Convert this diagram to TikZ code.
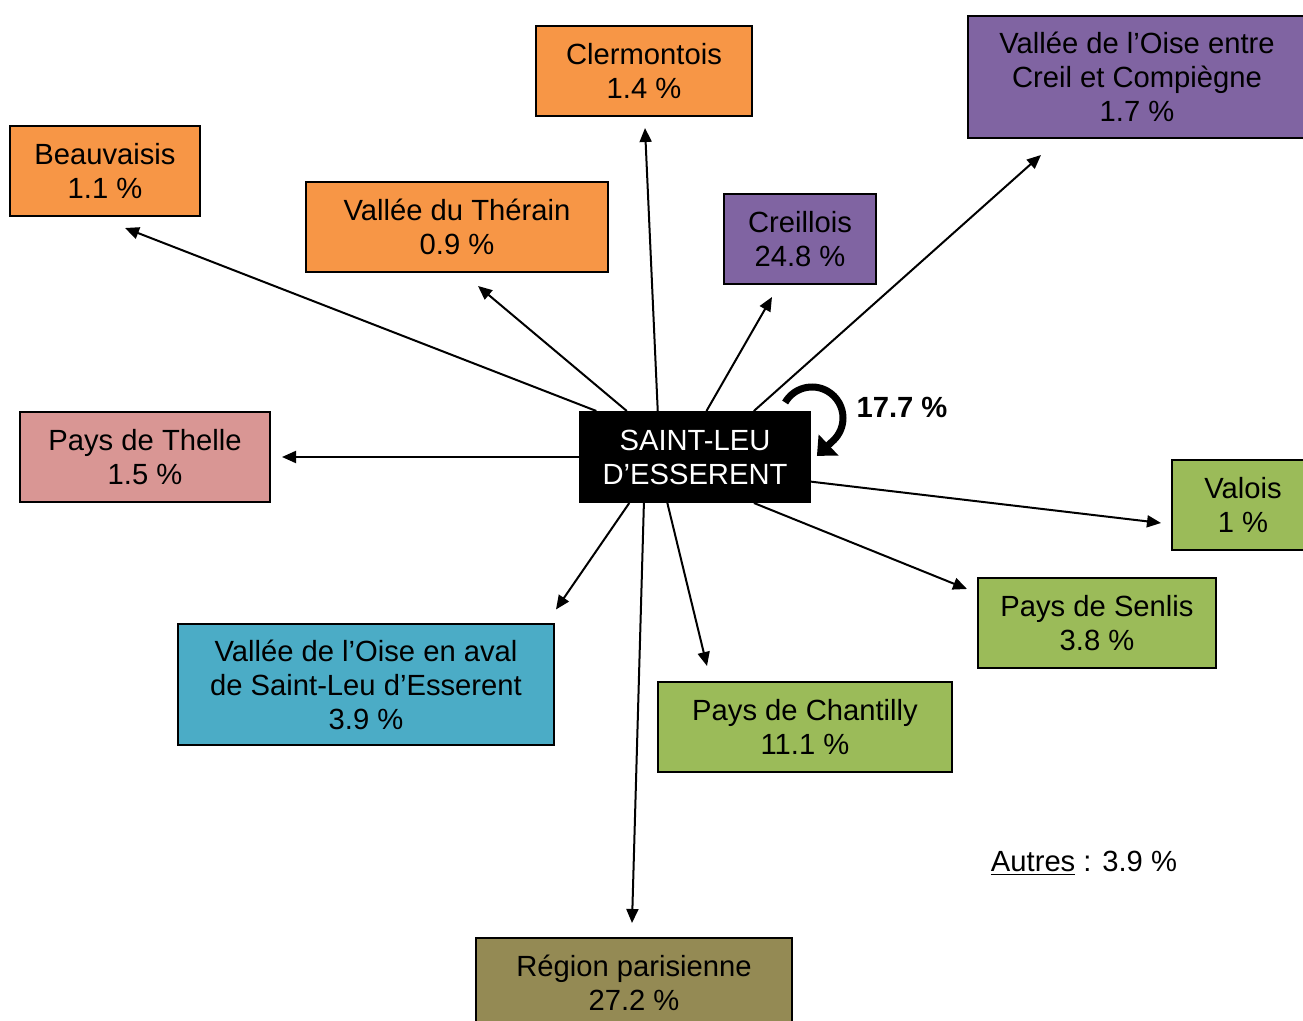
\documentclass[tikz,border=0pt]{standalone}
\usepackage{fontspec}
\setmainfont{Liberation Sans}
\usetikzlibrary{arrows.meta,calc}
\definecolor{orangebox}{HTML}{F79646}
\definecolor{violetbox}{HTML}{8064A2}
\definecolor{rosebox}{HTML}{D99694}
\definecolor{bleubox}{HTML}{4BACC6}
\definecolor{vertbox}{HTML}{9BBB59}
\definecolor{olivebox}{HTML}{948A54}
\tikzset{
  zone/.style={draw=black,line width=1pt,align=center,inner sep=0pt,
    minimum height=45pt,font=\fontsize{14.6}{17}\selectfont},
  fleche/.style={line width=1pt,-{Triangle[length=7pt,width=6pt]}},
}

\begin{document}
\begin{tikzpicture}[x=0.5pt,y=-0.5pt]
\useasboundingbox (0,0) rectangle (1303,1021);
% pole central
\node[zone,fill=black,text=white,minimum width=115pt] (stleu) at (695,457) {SAINT-LEU\\D’ESSERENT};
% destinations
\node[zone,fill=orangebox,minimum width=108pt] (clermont) at (644,71) {Clermontois\\1.4 \%};
\node[zone,fill=violetbox,minimum width=169pt,minimum height=61pt] (oisecreil) at (1137,77) {Vallée de l’Oise entre\\Creil et Compiègne\\1.7 \%};
\node[zone,fill=orangebox,minimum width=95pt] (beauvais) at (105,171) {Beauvaisis\\1.1 \%};
\node[zone,fill=orangebox,minimum width=151pt] (therain) at (457,227) {Vallée du Thérain\\0.9 \%};
\node[zone,fill=violetbox,minimum width=76pt] (creil) at (800,239) {Creillois\\24.8 \%};
\node[zone,fill=rosebox,minimum width=125pt] (thelle) at (145,457) {Pays de Thelle\\1.5 \%};
\node[zone,fill=vertbox,minimum width=71pt] (valois) at (1243,505) {Valois\\1 \%};
\node[zone,fill=vertbox,minimum width=119pt] (senlis) at (1097,623) {Pays de Senlis\\3.8 \%};
\node[zone,fill=bleubox,minimum width=188pt,minimum height=60.5pt] (oiseaval) at (366,685) {Vallée de l’Oise en aval\\de Saint-Leu d’Esserent\\3.9 \%};
\node[zone,fill=vertbox,minimum width=147pt] (chantilly) at (805,727) {Pays de Chantilly\\11.1 \%};
\node[zone,fill=olivebox,minimum width=158pt] (region) at (634,983) {Région parisienne\\27.2 \%};
\node[font=\fontsize{14.6}{17}\selectfont] (autres) at (1084,863) {\underline{Autres} : 3.9 \%};
% flux
\draw[fleche] (stleu.155) -- ($(beauvais.south)+(20,11)$);
\draw[fleche] (stleu.146) -- ($(therain.south)+(21,13)$);
\draw[fleche] (stleu.129) -- ($(clermont.south)+(1,11)$);
\draw[fleche] (stleu.76) -- ($(creil.south)+(-28,12)$);
\draw[fleche] (stleu.38) -- ($(oisecreil.south west)+(74,16)$);
\draw[fleche] (stleu.west) -- ($(thelle.east)+(11,0)$);
\draw[fleche] (stleu.348) -- ($(valois.west)+(-10,18)$);
\draw[fleche] (stleu.322) -- ($(senlis.north west)+(-10,12)$);
\draw[fleche] (stleu.239) -- ($(chantilly.north west)+(50,-15)$);
\draw[fleche] (stleu.222) -- ($(region.north)+(-2,-14)$);
\draw[fleche] (stleu.215) -- ($(oiseaval.north east)+(1,-14)$);
% flux interne
\coordinate (boucle) at (812,418);
\draw[line width=3.5pt,-{Triangle[length=8pt,width=14pt]}] ([shift={(150:15.5pt)}]boucle)
  arc[start angle=150,end angle=-45,radius=15.5pt] -- ++(-17,16);
\node[font=\bfseries\fontsize{14.6}{17}\selectfont] (interne) at (902,407) {17.7 \%};
\end{tikzpicture}
\end{document}
